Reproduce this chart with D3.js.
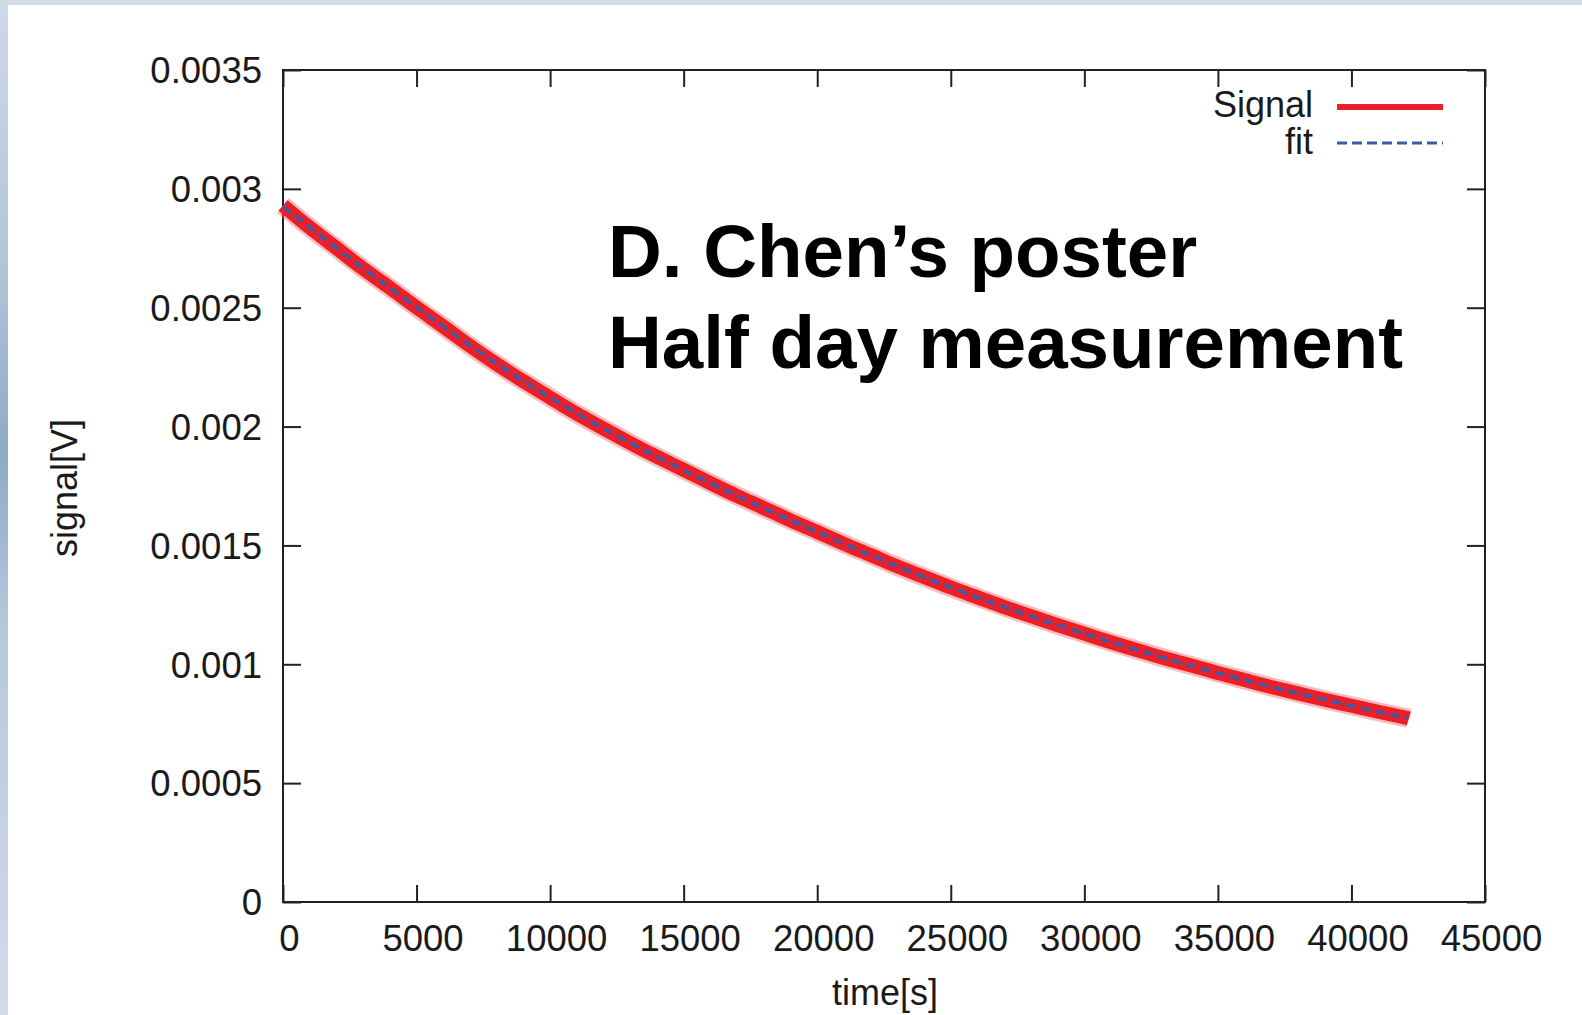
<!DOCTYPE html>
<html>
<head>
<meta charset="utf-8">
<script src="https://cdn.jsdelivr.net/npm/d3@7"></script>
<style>
  html, body { margin: 0; padding: 0; background: #fff; }
  svg { display: block; }
  text { font-family: "Liberation Sans", Arial, sans-serif; }
</style>
</head>
<body>
<svg id="chart" width="1582" height="1015"></svg>
<script>
// données
const signalTime = [0, 1000, 2000, 3000, 4000, 5000, 6000, 7000, 8000, 9000, 10000,
    11000, 12000, 13000, 14000, 15000, 16000, 17000, 18000, 19000, 20000,
    21000, 22000, 23000, 24000, 25000, 26000, 27000, 28000, 29000, 30000,
    31000, 32000, 33000, 34000, 35000, 36000, 37000, 38000, 39000, 40000,
    41000, 42000, 42150];
const signalValue = [0.00293, 0.002835, 0.002752, 0.002662, 0.002585, 0.0025, 0.002422, 0.002338, 0.002262, 0.00219, 0.002122,
    0.002052, 0.001992, 0.00193, 0.001872, 0.001818, 0.001762, 0.001707, 0.001658, 0.001605, 0.001557,
    0.001506, 0.00146, 0.001411, 0.001367, 0.001322, 0.001282, 0.00124, 0.001203, 0.001164, 0.001129,
    0.001092, 0.001059, 0.001025, 0.000995, 0.000963, 0.000934, 0.000904, 0.000878, 0.00085, 0.000826,
    0.0008, 0.000777, 0.000772];

const fitTime = [0, 2000, 4000, 6000, 8000, 10000, 12000, 14000, 16000, 18000, 20000,
    22000, 24000, 26000, 28000, 30000, 32000, 34000, 36000, 38000, 40000, 42000, 42100];
const fitValue = [0.002925, 0.00275, 0.002582, 0.00242, 0.002262, 0.00212, 0.00199, 0.001872, 0.00176, 0.001656, 0.001556,
    0.001458, 0.001366, 0.00128, 0.001202, 0.001128, 0.001058, 0.000994, 0.000933, 0.000877, 0.000825, 0.000776, 0.000774];

const xTicks = [0, 5000, 10000, 15000, 20000, 25000, 30000, 35000, 40000, 45000];
const yTicks = [0, 0.0005, 0.001, 0.0015, 0.002, 0.0025, 0.003, 0.0035];
const yTickLabels = ["0", "0.0005", "0.001", "0.0015", "0.002", "0.0025", "0.003", "0.0035"];

const svg = d3.select("#chart");

// fond façon diapo : bande en haut et à gauche
const defs = svg.append("defs");
const grad = defs.append("linearGradient")
    .attr("id", "bord").attr("x1", 0).attr("y1", 0).attr("x2", 0).attr("y2", 1);
grad.append("stop").attr("offset", "0%").attr("stop-color", "#cfd9e6");
grad.append("stop").attr("offset", "25%").attr("stop-color", "#b4c6da");
grad.append("stop").attr("offset", "45%").attr("stop-color", "#8fa9c7");
grad.append("stop").attr("offset", "62%").attr("stop-color", "#b7c8dc");
grad.append("stop").attr("offset", "100%").attr("stop-color", "#d2dbe8");

svg.append("rect").attr("x", 0).attr("y", 0).attr("width", 1582).attr("height", 5).attr("fill", "#d2dbe8");
svg.append("rect").attr("x", 0).attr("y", 0).attr("width", 8).attr("height", 1015).attr("fill", "url(#bord)");

// zone du graphique
const plotLeft = 283, plotRight = 1485, plotTop = 70, plotBottom = 902;

const x = d3.scaleLinear().domain([0, 45000]).range([plotLeft, plotRight]);
const y = d3.scaleLinear().domain([0, 0.0035]).range([plotBottom, plotTop]);

const axisColor = "#222";

// axes avec graduations vers l'intérieur
const gBottom = svg.append("g")
    .attr("transform", `translate(0, ${plotBottom})`)
    .call(d3.axisBottom(x).tickValues(xTicks).tickSize(-17).tickFormat(d3.format("d")));
gBottom.selectAll("text")
    .attr("y", 49).attr("dy", null).attr("dx", 6);

svg.append("g")
    .attr("transform", `translate(0, ${plotTop})`)
    .call(d3.axisTop(x).tickValues(xTicks).tickSize(-17).tickFormat(""));

const gLeft = svg.append("g")
    .attr("transform", `translate(${plotLeft}, 0)`)
    .call(d3.axisLeft(y).tickValues(yTicks).tickSize(-18)
        .tickFormat((d, i) => yTickLabels[i]));
gLeft.selectAll("text")
    .attr("x", -21).attr("dy", "0.35em");

svg.append("g")
    .attr("transform", `translate(${plotRight}, 0)`)
    .call(d3.axisRight(y).tickValues(yTicks).tickSize(-18).tickFormat(""));

svg.selectAll(".domain").remove();
svg.selectAll(".tick line").attr("stroke", axisColor).attr("stroke-width", 2);
svg.selectAll(".tick text")
    .attr("fill", "#1a1a1a")
    .style("font-size", "36.5px")
    .style("font-family", "'Liberation Sans', Arial, sans-serif");

// cadre
svg.append("rect")
    .attr("x", plotLeft).attr("y", plotTop)
    .attr("width", plotRight - plotLeft).attr("height", plotBottom - plotTop)
    .attr("fill", "none").attr("stroke", axisColor).attr("stroke-width", 2);

// courbes
const signalData = signalTime.map((t, i) => ({ t: t, v: signalValue[i] }));
const fitData = fitTime.map((t, i) => ({ t: t, v: fitValue[i] }));

const line = d3.line().x(d => x(d.t)).y(d => y(d.v)).curve(d3.curveBasis);

// halo léger autour du signal bruité
svg.append("path")
    .datum(signalData)
    .attr("d", line)
    .attr("fill", "none")
    .attr("stroke", "#f26b6b")
    .attr("stroke-opacity", 0.45)
    .attr("stroke-width", 19);

svg.append("path")
    .datum(signalData)
    .attr("d", line)
    .attr("fill", "none")
    .attr("stroke", "#ec1f26")
    .attr("stroke-width", 14);

svg.append("path")
    .datum(fitData)
    .attr("d", line)
    .attr("fill", "none")
    .attr("stroke", "#3d5aa8")
    .attr("stroke-width", 3.5)
    .attr("stroke-dasharray", "10,5");

// légende
svg.append("text")
    .attr("x", 1313).attr("y", 117)
    .attr("text-anchor", "end")
    .attr("fill", "#1a1a1a")
    .style("font-size", "36px")
    .text("Signal");
svg.append("line")
    .attr("x1", 1337).attr("x2", 1443).attr("y1", 107).attr("y2", 107)
    .attr("stroke", "#ec1f26").attr("stroke-width", 6);

svg.append("text")
    .attr("x", 1313).attr("y", 154)
    .attr("text-anchor", "end")
    .attr("fill", "#1a1a1a")
    .style("font-size", "36px")
    .text("fit");
svg.append("line")
    .attr("x1", 1337).attr("x2", 1443).attr("y1", 143).attr("y2", 143)
    .attr("stroke", "#3d5aa8").attr("stroke-width", 3)
    .attr("stroke-dasharray", "10,5");

// titres des axes
svg.append("text")
    .attr("x", 885).attr("y", 1005)
    .attr("text-anchor", "middle")
    .attr("fill", "#1a1a1a")
    .style("font-size", "36px")
    .text("time[s]");

svg.append("text")
    .attr("transform", "translate(77, 488) rotate(-90)")
    .attr("text-anchor", "middle")
    .attr("fill", "#1a1a1a")
    .style("font-size", "36px")
    .text("signal[V]");

// annotation
const note = svg.append("text")
    .attr("fill", "#000")
    .style("font-size", "74.5px")
    .style("font-weight", "bold");
note.append("tspan").attr("x", 608).attr("y", 277).text("D. Chen’s poster");
note.append("tspan").attr("x", 608).attr("y", 368).text("Half day measurement");
</script>
</body>
</html>
